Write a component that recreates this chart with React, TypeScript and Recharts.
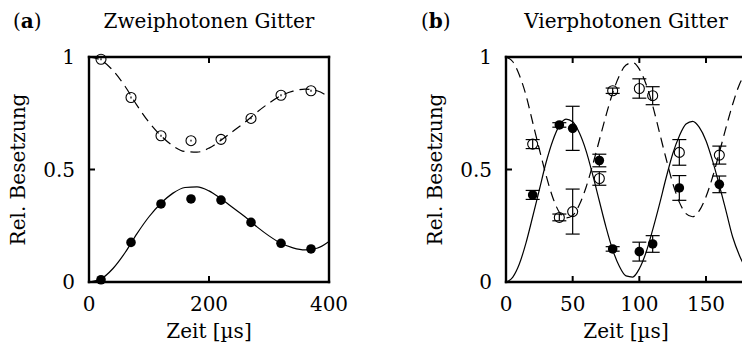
import { ComposedChart, Line, Scatter, XAxis, YAxis, ErrorBar } from 'recharts';

const FONT = '"DejaVu Serif", serif';

// (a) Zweiphotonen Gitter
const timesA = [20, 70, 120, 170, 220, 270, 320, 370];
const openA = [0.99, 0.82, 0.65, 0.628, 0.634, 0.727, 0.83, 0.85];
const filledA = [0.01, 0.176, 0.347, 0.369, 0.364, 0.265, 0.172, 0.147];
const fitTimesA = [0, 20, 40, 60, 80, 100, 120, 140, 160, 180, 200, 220, 240, 260, 280, 300, 320, 340, 360, 380, 400];
const fitUpperA = [1.0, 0.986, 0.94, 0.87, 0.785, 0.71, 0.65, 0.605, 0.58, 0.577, 0.595, 0.63, 0.67, 0.71, 0.755, 0.795, 0.828, 0.848, 0.857, 0.85, 0.82];
const fitLowerA = [0, 0.014, 0.06, 0.13, 0.215, 0.29, 0.35, 0.395, 0.42, 0.423, 0.405, 0.37, 0.33, 0.29, 0.245, 0.205, 0.172, 0.152, 0.143, 0.15, 0.18];
const ticksXA = [0, 200, 400];

// (b) Vierphotonen Gitter
const timesB = [20, 40, 50, 70, 80, 100, 110, 130, 160];
const openB = [0.613, 0.287, 0.313, 0.46, 0.85, 0.86, 0.828, 0.576, 0.564];
const openErrB = [0.02, 0.015, 0.1, 0.03, 0.012, 0.043, 0.04, 0.057, 0.04];
const filledB = [0.387, 0.698, 0.683, 0.54, 0.147, 0.135, 0.169, 0.418, 0.434];
const filledErrB = [0.02, 0.01, 0.098, 0.028, 0.01, 0.042, 0.037, 0.055, 0.037];
const fitTimesB = [0, 5, 10, 15, 20, 25, 30, 35, 40, 45, 50, 55, 60, 65, 70, 75, 80, 85, 90, 95, 100, 105, 110, 115, 120, 125, 130, 135, 140, 145, 150, 155, 160, 165, 170, 175, 180];
const fitUpperB = [1.0, 0.98, 0.92, 0.83, 0.71, 0.59, 0.475, 0.377, 0.31, 0.285, 0.296, 0.343, 0.42, 0.52, 0.63, 0.74, 0.84, 0.917, 0.964, 0.975, 0.946, 0.88, 0.784, 0.667, 0.55, 0.44, 0.355, 0.304, 0.29, 0.317, 0.379, 0.468, 0.575, 0.686, 0.79, 0.877, 0.93];
const fitLowerB = [0, 0.021, 0.08, 0.174, 0.29, 0.41, 0.53, 0.627, 0.695, 0.724, 0.712, 0.663, 0.584, 0.477, 0.36, 0.244, 0.143, 0.07, 0.027, 0.022, 0.059, 0.131, 0.232, 0.343, 0.461, 0.569, 0.649, 0.702, 0.714, 0.687, 0.628, 0.537, 0.43, 0.316, 0.2, 0.119, 0.057];
const ticksXB = [0, 50, 100, 150];

const ticksY = [0, 0.5, 1];

const fitA = fitTimesA.map((t, i) => ({ t, upper: fitUpperA[i], lower: fitLowerA[i] }));
const pointsA = timesA.map((t, i) => ({ t, open: openA[i], filled: filledA[i], err: 0.004 }));
const fitB = fitTimesB.map((t, i) => ({ t, upper: fitUpperB[i], lower: fitLowerB[i] }));
const pointsB = timesB.map((t, i) => ({
  t,
  open: openB[i],
  openErr: openErrB[i],
  filled: filledB[i],
  filledErr: filledErrB[i],
}));

const openDot = (p: any) => (
  <circle cx={p.cx} cy={p.cy} r={5} fill="none" stroke="#000" strokeWidth={1.1} />
);
const filledDot = (p: any) => <circle cx={p.cx} cy={p.cy} r={4.8} fill="#000" />;

const frame = { stroke: '#000', strokeWidth: 2.4, strokeLinecap: 'square' as const };
const tickLine = { stroke: '#000', strokeWidth: 2 };
const tickText = { fill: '#000', fontSize: 20, fontFamily: FONT };

const yTitle = (x: number) => (props: any) => {
  const vb = props.viewBox;
  const cx = vb.x + x;
  const cy = vb.y + vb.height / 2;
  return (
    <text
      x={cx}
      y={cy}
      transform={`rotate(-90 ${cx} ${cy})`}
      textAnchor="middle"
      fontSize={20}
      fontFamily={FONT}
      fill="#000"
    >
      Rel. Besetzung
    </text>
  );
};

const xTitle = (props: any) => {
  const vb = props.viewBox;
  return (
    <text
      x={vb.x + vb.width / 2}
      y={vb.y + 56}
      textAnchor="middle"
      fontSize={20}
      fontFamily={FONT}
      fill="#000"
    >
      Zeit [µs]
    </text>
  );
};

interface PanelProps {
  width: number;
  yAxisWidth: number;
  rightMargin: number;
  xMax: number;
  xTicks: number[];
  fit: any[];
  points: any[];
  withErrors: boolean;
}

function Panel({ width, yAxisWidth, rightMargin, xMax, xTicks, fit, points, withErrors }: PanelProps) {
  return (
    <ComposedChart
      width={width}
      height={350}
      margin={{ top: 56, right: rightMargin - 1, left: 0, bottom: 28 }}
    >
      <XAxis
        dataKey="t"
        type="number"
        domain={[0, xMax]}
        ticks={xTicks}
        allowDataOverflow
        height={40}
        axisLine={frame}
        tickLine={tickLine}
        tickSize={-6}
        tickMargin={21}
        tick={tickText}
        label={{ content: xTitle }}
      />
      <XAxis
        xAxisId="top"
        orientation="top"
        dataKey="t"
        type="number"
        domain={[0, xMax]}
        ticks={xTicks}
        allowDataOverflow
        height={1}
        axisLine={frame}
        tickLine={tickLine}
        tickSize={-6}
        tickFormatter={() => ''}
      />
      <YAxis
        type="number"
        domain={[0, 1]}
        ticks={ticksY}
        width={yAxisWidth}
        axisLine={frame}
        tickLine={tickLine}
        tickSize={-6}
        tickMargin={20}
        tick={tickText}
        label={{ content: yTitle(yAxisWidth === 89 ? 25 : 71) }}
      />
      <YAxis
        yAxisId="right"
        orientation="right"
        type="number"
        domain={[0, 1]}
        ticks={ticksY}
        width={1}
        axisLine={frame}
        tickLine={tickLine}
        tickSize={-6}
        tickFormatter={() => ''}
      />
      <Line
        data={fit}
        dataKey="upper"
        type="monotone"
        stroke="#000"
        strokeWidth={1.2}
        strokeDasharray="10 6"
        dot={false}
        isAnimationActive={false}
      />
      <Line
        data={fit}
        dataKey="lower"
        type="monotone"
        stroke="#000"
        strokeWidth={1.2}
        dot={false}
        isAnimationActive={false}
      />
      <Scatter data={points} dataKey="open" shape={openDot} isAnimationActive={false}>
        <ErrorBar
          dataKey={withErrors ? 'openErr' : 'err'}
          direction="y"
          width={withErrors ? 7 : 0}
          stroke="#000"
          strokeWidth={1.2}
        />
      </Scatter>
      <Scatter data={points} dataKey="filled" shape={filledDot} isAnimationActive={false}>
        <ErrorBar
          dataKey={withErrors ? 'filledErr' : 'err'}
          direction="y"
          width={withErrors ? 7 : 0}
          stroke="#000"
          strokeWidth={1.2}
        />
      </Scatter>
    </ComposedChart>
  );
}

export default function App() {
  return (
    <div
      style={{
        position: 'absolute',
        left: 0,
        top: 0,
        width: 742,
        height: 350,
        overflow: 'hidden',
        background: '#fff',
        fontFamily: FONT,
      }}
    >
      <div style={{ position: 'absolute', left: 0, top: 0 }}>
        <Panel
          width={371}
          yAxisWidth={89}
          rightMargin={42}
          xMax={400}
          xTicks={ticksXA}
          fit={fitA}
          points={pointsA}
          withErrors={false}
        />
      </div>
      <div style={{ position: 'absolute', left: 371, top: 0 }}>
        <Panel
          width={420}
          yAxisWidth={135}
          rightMargin={45}
          xMax={180}
          xTicks={ticksXB}
          fit={fitB}
          points={pointsB}
          withErrors
        />
      </div>
      <svg
        width={742}
        height={350}
        style={{ position: 'absolute', left: 0, top: 0, pointerEvents: 'none' }}
      >
        <g fontFamily={FONT} fontSize={20} fill="#000">
          <text x={13} y={28}>
            (<tspan fontWeight="bold">a</tspan>)
          </text>
          <text x={209} y={28} textAnchor="middle">
            Zweiphotonen Gitter
          </text>
          <text x={421} y={28}>
            (<tspan fontWeight="bold">b</tspan>)
          </text>
          <text x={626} y={28} textAnchor="middle">
            Vierphotonen Gitter
          </text>
        </g>
      </svg>
    </div>
  );
}
